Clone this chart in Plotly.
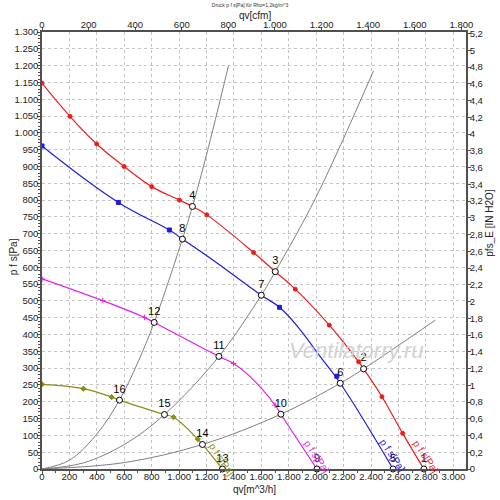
import plotly.graph_objects as go

# fan curves, points (qv in m^3/h, p f s in Pa)
red_q = [0, 204, 399, 599, 800, 1002, 1097, 1202, 1543, 1701, 1847, 2095, 2309, 2345, 2479, 2630, 2785]
red_p = [1148, 1049, 967, 900, 840, 800, 781, 756, 644, 587, 535, 428, 319, 298, 215, 106, 0]
red_mq = [0, 204, 399, 599, 800, 1002, 1202, 1543, 1847, 2095, 2309, 2479, 2630]
red_mp = [1148, 1049, 967, 900, 840, 800, 756, 644, 535, 428, 319, 215, 106]

blue_q = [0, 557, 929, 1024, 1238, 1599, 1732, 1883, 2029, 2175, 2560]
blue_p = [961, 793, 711, 684, 624, 517, 481, 414, 334, 255, 0]
blue_mq = [0, 557, 929, 1732, 2150]
blue_mp = [961, 793, 711, 481, 276]

mag_q = [0, 443, 747, 818, 1290, 1397, 1518, 1700, 1742, 2005]
mag_p = [566, 501, 451, 436, 335, 314, 275, 190, 163, 0]
mag_mq = [0, 443, 747, 1397, 1700]
mag_mp = [566, 501, 451, 314, 190]

oli_q = [0, 302, 508, 565, 893, 959, 1136, 1170, 1316]
oli_p = [252, 239, 214, 205, 162, 154, 89, 73, 0]
oli_mq = [0, 302, 508, 959, 1136]
oli_mp = [252, 239, 214, 154, 89]

# system curves (gray)
sysA_q = [0, 200, 400, 565, 700, 818, 1024, 1097, 1200, 1360]
sysA_p = [0, 26, 104, 205, 318, 436, 684, 781, 935, 1200]
sysB_q = [0, 300, 600, 893, 1290, 1599, 1701, 2000, 2418]
sysB_p = [0, 18, 73, 162, 335, 517, 587, 810, 1185]
sysC_q = [0, 600, 1170, 1742, 2175, 2345, 2869]
sysC_p = [0, 19, 73, 163, 255, 298, 443]

# operating points 1..16
op_num = [str(i) for i in range(1, 17)]
op_q = [2785, 2345, 1701, 1097, 2560, 2175, 1599, 1024, 2005, 1742, 1290, 818, 1316, 1170, 893, 565]
op_p = [0, 298, 587, 781, 0, 255, 517, 684, 0, 163, 335, 436, 0, 73, 162, 205]

# curve end labels
lab_q = [2796, 2557, 2002, 1310]
lab_p = [36, 40, 36, 28]

RED = "#ee1c1c"
BLUE = "#1c1ce0"
MAG = "#e61ee6"
OLI = "#8c8c14"
GRAY = "#808080"
FONT = "Arial, Liberation Sans, sans-serif"

QMAX = 3092
PMAX = 1300

fig = go.Figure()

for q, p in [(sysA_q, sysA_p), (sysB_q, sysB_p), (sysC_q, sysC_p)]:
    fig.add_trace(go.Scatter(x=q, y=p, mode="lines", line=dict(color=GRAY, width=1, shape="spline"),
                             hoverinfo="skip"))

curves = [
    (red_q, red_p, red_mq, red_mp, RED, "circle"),
    (blue_q, blue_p, blue_mq, blue_mp, BLUE, "square"),
    (mag_q, mag_p, mag_mq, mag_mp, MAG, "cross-thin"),
    (oli_q, oli_p, oli_mq, oli_mp, OLI, "diamond"),
]
for q, p, mq, mp, col, sym in curves:
    fig.add_trace(go.Scatter(x=q, y=p, mode="lines", line=dict(color=col, width=1.2, shape="spline", smoothing=1.2)))
    fig.add_trace(go.Scatter(x=mq, y=mp, mode="markers",
                             marker=dict(symbol=sym, size=4, color=col, line=dict(color=col, width=1))))

fig.add_trace(go.Scatter(x=op_q, y=op_p, mode="markers+text", text=op_num, textposition="top center",
                         textfont=dict(family=FONT, size=11, color="black"),
                         marker=dict(symbol="circle", size=6, color="white", line=dict(color="black", width=1)),
                         cliponaxis=False))

# dummy trace so the cfm and in H2O axes get drawn
fig.add_trace(go.Scatter(x=[None], y=[None], xaxis="x2", yaxis="y2", hoverinfo="skip"))

for q, p, col in zip(lab_q, lab_p, [RED, BLUE, MAG, OLI]):
    fig.add_annotation(x=q, y=p, text="p f s[Pa]", showarrow=False, textangle=56,
                       font=dict(family=FONT, size=10, color=col))

fig.add_annotation(x=2290, y=354, text="<i>Ventilatorry.ru</i>", showarrow=False,
                   font=dict(family=FONT, size=22, color="#d2d2d2"))

# axis titles as paper annotations so they sit where the original puts them
title_font = dict(family=FONT, size=10, color="#222")
fig.add_annotation(xref="paper", yref="paper", x=0.502, y=1.037, text="qv[cfm]", showarrow=False,
                   font=title_font, yanchor="middle")
fig.add_annotation(xref="paper", yref="paper", x=0.502, y=-0.047, text="qv[m^3/h]", showarrow=False,
                   font=title_font, yanchor="middle")
fig.add_annotation(xref="paper", yref="paper", x=-0.068, y=0.485, text="p f s[Pa]", showarrow=False,
                   font=title_font, textangle=-90, xanchor="center", yanchor="middle")
fig.add_annotation(xref="paper", yref="paper", x=1.056, y=0.563, text="pfs_E [IN H2O]", showarrow=False,
                   font=title_font, textangle=-90, xanchor="center", yanchor="middle")

axis_common = dict(showline=True, linecolor="#505050", linewidth=1.5, ticks="outside", ticklen=3,
                   tickcolor="#505050", tickangle=0, tickfont=dict(family=FONT, size=9.5, color="#222"),
                   separatethousands=True, zeroline=False, automargin=False)

fig.update_layout(
    width=500, height=500,
    margin=dict(l=42, r=34, t=32, b=31),
    paper_bgcolor="white", plot_bgcolor="white",
    showlegend=False,
    separators=",.",
    title=dict(text="Druck p f s[Pa] für Rho=1,2kg/m^3", x=0.5, y=0.99, xanchor="center", yanchor="middle",
               font=dict(family=FONT, size=5, color="#333"), automargin=False),
    xaxis=dict(range=[0, QMAX], dtick=200, showgrid=True, gridcolor="#c4c4c4", griddash="dot", gridwidth=1,
               minor=dict(dtick=100, ticks="outside", ticklen=2, tickcolor="#505050"),
               ticklabelstandoff=-5, **axis_common),
    yaxis=dict(range=[0, PMAX], dtick=50, showgrid=True, gridcolor="#c4c4c4", griddash="dot", gridwidth=1,
               minor=dict(dtick=10, ticks="outside", ticklen=2, tickcolor="#505050"),
               ticklabelstandoff=-3, **axis_common),
    xaxis2=dict(range=[0, QMAX / 1.699], dtick=200, overlaying="x", side="top", anchor="y2", showgrid=False,
                ticklabelstandoff=-5, **axis_common),
    yaxis2=dict(range=[0, PMAX / 249.09], dtick=0.2, overlaying="y", side="right", anchor="x2", showgrid=False,
                ticklabelstandoff=-3, **axis_common),
)

# the page has a default body margin; drop it so the 500x500 figure fills the window
fig.write_html("out.html", config={"displayModeBar": False},
               post_script="document.body.style.margin = '0';")
